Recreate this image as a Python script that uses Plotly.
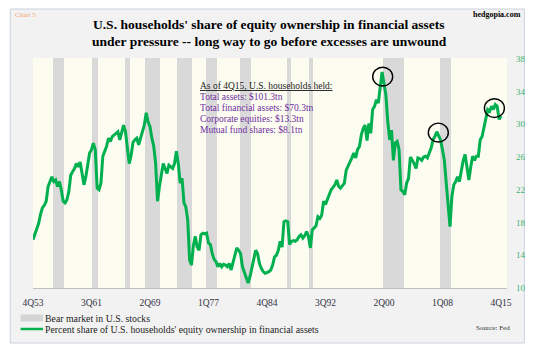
import plotly.graph_objects as go

# ---------------- data ----------------
values = [
    15.9,                    # 4Q53
    16.6, 17.4, 17.9, 19.0,  # 1954
    19.8, 20.1, 20.6, 22.4,  # 1955
    23.0, 23.6, 23.0, 23.2,  # 1956
    22.4, 23.0, 22.0, 20.6,  # 1957
    20.4, 20.8, 21.8, 23.8,  # 1958
    24.2, 24.6, 25.2, 24.8,  # 1959
    25.4, 24.0, 22.6, 23.6,  # 1960
    25.0, 26.5, 26.9, 27.7,  # 1961
    26.9, 22.2, 22.0, 22.8,  # 1962
    26.1, 26.8, 27.3, 28.3,  # 1963
    27.9, 28.5, 28.7, 28.9,  # 1964
    29.1, 28.1, 28.9, 29.9,  # 1965
    29.1, 27.3, 25.2, 26.2,  # 1966
    27.8, 28.1, 28.3, 27.5,  # 1967
    28.2, 29.1, 29.9, 31.4,  # 1968
    30.3, 29.7, 28.3, 27.3,  # 1969
    25.2, 20.6, 22.4, 23.6,  # 1970
    25.2, 24.6, 24.0, 25.0,  # 1971
    24.8, 24.6, 25.2, 26.7,  # 1972
    25.2, 22.8, 23.4, 20.4,  # 1973
    19.9, 18.3, 13.4, 12.8,  # 1974
    15.2, 16.3, 15.0, 14.6,  # 1975
    16.5, 16.7, 16.6, 16.7,  # 1976
    15.5, 15.3, 14.2, 13.5,  # 1977
    13.2, 12.6, 13.0, 12.6,  # 1978
    12.9, 12.8, 12.6, 13.0,  # 1979
    12.2, 13.0, 13.8, 14.9,  # 1980
    14.6, 14.2, 12.6, 12.0,  # 1981
    11.4, 10.6, 11.4, 12.4,  # 1982
    13.8, 14.6, 14.2, 13.0,  # 1983
    12.4, 12.0, 11.8, 11.9,  # 1984
    12.0, 12.2, 12.8, 13.8,  # 1985
    14.0, 14.6, 15.7, 15.0,  # 1986
    18.1, 18.2, 18.1, 15.3,  # 1987
    15.7, 15.8, 15.7, 15.9,  # 1988
    16.3, 16.5, 16.1, 16.4,  # 1989
    16.9, 16.3, 14.9, 17.1,  # 1990
    17.3, 17.6, 18.7, 18.5,  # 1991
    18.9, 20.6, 20.2, 20.8,  # 1992
    21.4, 22.0, 22.3, 22.6,  # 1993
    23.2, 22.4, 22.2, 22.5,  # 1994
    22.8, 24.4, 25.0, 25.4,  # 1995
    25.9, 26.5, 25.9, 26.9,  # 1996
    27.3, 28.7, 29.5, 29.9,  # 1997
    28.0, 30.1, 28.9, 31.8,  # 1998
    32.2, 33.0, 32.6, 34.2,  # 1999
    36.4, 35.0, 33.6, 30.4,  # 2000
    28.1, 29.3, 25.6, 27.7,  # 2001
    27.9, 26.9, 22.0, 21.8,  # 2002
    21.4, 22.8, 23.4, 26.0,  # 2003
    25.6, 25.2, 24.6, 25.9,  # 2004
    25.8, 25.6, 26.0, 26.1,  # 2005
    25.9, 26.5, 27.1, 28.1,  # 2006
    28.5, 29.1, 28.6, 28.1,  # 2007
    26.9, 25.6, 22.8, 20.4,  # 2008
    17.5, 21.2, 22.6, 23.0,  # 2009
    23.6, 23.0, 24.2, 25.6,  # 2010
    26.3, 25.0, 23.2, 24.8,  # 2011
    26.1, 25.6, 26.1, 26.1,  # 2012
    28.1, 28.5, 29.5, 30.9,  # 2013
    31.8, 31.6, 32.2, 31.8,  # 2014
    32.4, 32.2, 30.6, 31.0,  # 2015
]

# quarter category labels, 4Q53 ... 4Q15
quarters = []
yr, q = 1953, 4
for _ in values:
    quarters.append(f"{q}Q{yr % 100:02d}")
    q += 1
    if q > 4:
        q, yr = 1, yr + 1

x_tick_labels = ["4Q53", "3Q61", "2Q69", "1Q77", "4Q84", "3Q92", "2Q00", "1Q08", "4Q15"]
y_tick_values = [10, 14, 18, 22, 26, 30, 34, 38]

bear_start = ["3Q56", "4Q61", "1Q66", "4Q68", "1Q73", "4Q76", "2Q81", "3Q87", "3Q90", "2Q00", "4Q07"]
bear_end   = ["4Q57", "2Q62", "3Q66", "3Q70", "4Q74", "1Q78", "3Q82", "4Q87", "4Q90", "4Q02", "1Q09"]

circled_quarters = ["1Q00", "2Q07", "1Q15"]

info_header = "As of 4Q15, U.S. households held:"
info_lines = [
    "Total assets: $101.3tn",
    "Total financial assets: $70.3tn",
    "Corporate equities: $13.3tn",
    "Mutual fund shares: $8.1tn",
]

# ---------------- geometry (pixels) ----------------
W, H = 538, 346
PL, PR, PT, PB = 33, 511, 58, 288
Y_MIN, Y_MAX = 10, 38.1
X_MAX = 251.2


def px(x):
    return (x - PL) / (PR - PL)


def py(y):
    return (PB - y) / (PB - PT)


SERIF = "Liberation Serif, Times New Roman, serif"
GREEN = "#00b04f"
idx = {qq: i for i, qq in enumerate(quarters)}

fig = go.Figure()

# bear-market bands as bars spanning the quarters
fig.add_trace(go.Bar(
    x=bear_start,
    y=[Y_MAX - Y_MIN] * len(bear_start),
    base=Y_MIN,
    width=[idx[e] - idx[s] + 1 for s, e in zip(bear_start, bear_end)],
    offset=-0.5,
    marker=dict(color="#d9d9d9", line=dict(width=0)),
    showlegend=False,
    hoverinfo="skip",
))

fig.add_trace(go.Scatter(
    x=quarters,
    y=values,
    mode="lines",
    line=dict(color=GREEN, width=3),
    showlegend=False,
))

shapes = []
# outer frame
shapes.append(dict(type="rect", xref="paper", yref="paper", layer="below",
                   x0=px(10), x1=px(528.5), y0=py(343), y1=py(9),
                   fillcolor="#f2f2f2", line=dict(color="#c9d2de", width=1)))
# plot area background
shapes.append(dict(type="rect", xref="paper", yref="paper", layer="below",
                   x0=0, x1=1, y0=0, y1=1,
                   fillcolor="#fcfcf1", line=dict(width=0)))

# circles around peaks
circle_offsets = [(0.6, -4.7), (1.5, -0.9), (-0.9, -3.5)]
for qq, (dx, dy) in zip(circled_quarters, circle_offsets):
    i = idx[qq]
    shapes.append(dict(type="circle", xref="x", yref="y",
                       xsizemode="pixel", ysizemode="pixel",
                       xanchor=i, yanchor=values[i],
                       x0=dx - 10, x1=dx + 10, y0=dy - 9.4, y1=dy + 9.4,
                       line=dict(color="black", width=1.4)))

# legend swatches
LEG1, LEG2 = 318, 329
shapes.append(dict(type="rect", xref="paper", yref="paper",
                   x0=px(20.5), x1=px(43), y0=py(LEG1 + 3.5), y1=py(LEG1 - 3.5),
                   fillcolor="#d4d4d4", line=dict(width=0)))
shapes.append(dict(type="line", xref="paper", yref="paper",
                   x0=px(20.5), x1=px(43), y0=py(LEG2), y1=py(LEG2),
                   line=dict(color=GREEN, width=2.5)))

annotations = []


def txt(text, x, y, size, color="black", xanchor="left", bold=False, **kw):
    font = dict(family=SERIF, size=size, color=color)
    font.update(kw.pop("font_extra", {}))
    annotations.append(dict(
        text=f"<b>{text}</b>" if bold else text,
        x=px(x), y=py(y), xref="paper", yref="paper",
        xanchor=xanchor, yanchor="middle", showarrow=False,
        font=font, **kw))


txt("U.S. households' share of equity ownership in financial assets", 271, 25, 13.5, xanchor="center", bold=True)
txt("under pressure -- long way to go before excesses are unwound", 271, 41, 13.5, xanchor="center", bold=True)
txt("Chart 5", 13, 15, 7, color="#f2a46e")
txt("hedgopia.com", 527, 15, 8, xanchor="right", bold=True)

txt(info_header, 199, 86, 9.5, color="#222222", font_extra=dict(lineposition="under"))
for k, line in enumerate(info_lines):
    txt(line, 199, 96.5 + k * 11.2, 9.5, color="#7030a0")

txt("Bear market in U.S. stocks", 43.5, LEG1, 9.8, color="#222222")
txt("Percent share of U.S. households' equity ownership in financial assets", 43.5, LEG2, 9.8, color="#222222")
txt("Source: Fed", 516, LEG2 - 1, 7, color="#333333", xanchor="right")

fig.update_layout(
    width=W, height=H,
    margin=dict(l=PL, r=W - PR, t=PT, b=H - PB, pad=0),
    paper_bgcolor="white",
    plot_bgcolor="rgba(0,0,0,0)",
    shapes=shapes,
    annotations=annotations,
    bargap=0,
    xaxis=dict(
        type="category",
        categoryorder="array", categoryarray=quarters,
        range=[0, X_MAX],
        tickmode="array", tickvals=x_tick_labels, ticktext=x_tick_labels,
        ticks="", showgrid=False, zeroline=False,
        showline=True, linecolor="#c0c0c0", linewidth=1,
        tickfont=dict(family=SERIF, size=9.5, color="#333344"),
        ticklabelstandoff=6,
    ),
    yaxis=dict(
        side="right",
        range=[Y_MIN, Y_MAX],
        tickmode="array", tickvals=y_tick_values,
        ticks="", showgrid=False, zeroline=False, showline=False,
        tickfont=dict(family=SERIF, size=9, color="#3cb371"),
        ticklabelstandoff=8,
    ),
)

fig.write_html("out.html")
